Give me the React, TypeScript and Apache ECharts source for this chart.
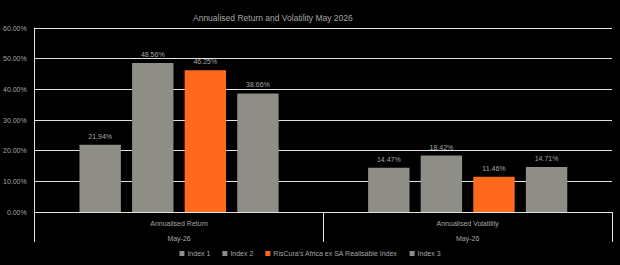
import React, { useEffect, useRef } from "react";
import * as echarts from "echarts";

const categories = ["Annualised Return", "Annualised Volatility"];
const subLabels = ["May-26", "May-26"];
const seriesNames = ["Index 1", "Index 2", "RisCura's Africa ex SA Realisable Index", "Index 3"];
const index1 = [21.94, 14.47];
const index2 = [48.56, 18.42];
const riscura = [46.25, 11.46];
const index3 = [38.66, 14.71];
const yTicks = { min: 0, max: 60, interval: 10 };

const GREY = "#8e8e86";
const ORANGE = "#ff6a1c";
const TEXT = "#a6a6a6";
const LINE = "#e2e2e2";
const FONT = "Liberation Sans, Arial, sans-serif";

export default function App() {
  const ref = useRef<HTMLDivElement>(null);
  useEffect(() => {
    if (!ref.current) return;
    const chart = echarts.init(ref.current, null, { renderer: "svg" });
    const values = [index1, index2, riscura, index3];
    const colors = [GREY, GREY, ORANGE, GREY];
    chart.setOption({
      animation: false,
      backgroundColor: "#000000",
      textStyle: { fontFamily: FONT },
      title: {
        text: "Annualised Return and Volatility May 2026",
        left: 188,
        top: 8,
        textStyle: { color: TEXT, fontSize: 8.5, fontWeight: "normal", fontFamily: FONT },
      },
      legend: {
        bottom: 3,
        left: "center",
        itemWidth: 5,
        itemHeight: 5,
        itemGap: 12,
        icon: "rect",
        textStyle: { color: TEXT, fontSize: 7, fontFamily: FONT, padding: [0, 0, 0, -2] },
        data: seriesNames,
      },
      grid: { left: 34, right: 8, top: 28, bottom: 53, containLabel: false },
      xAxis: {
        type: "category",
        data: categories.map((c, i) => c + "\n" + subLabels[i]),
        axisLine: { lineStyle: { color: LINE, width: 1 } },
        axisTick: { show: true, length: 30, lineStyle: { color: LINE }, alignWithLabel: false },
        axisLabel: { color: TEXT, fontSize: 7, lineHeight: 15, margin: 4, fontFamily: FONT },
      },
      yAxis: {
        type: "value",
        min: yTicks.min,
        max: yTicks.max,
        interval: yTicks.interval,
        axisLine: { show: true, lineStyle: { color: LINE } },
        axisTick: { show: false },
        axisLabel: {
          color: TEXT,
          fontSize: 7,
          margin: 8,
          fontFamily: FONT,
          formatter: (v: number) => v.toFixed(2) + "%",
        },
        splitLine: { lineStyle: { color: LINE, width: 1 } },
      },
      series: seriesNames.map((name, i) => ({
        name,
        type: "bar",
        data: values[i],
        barGap: "27%",
        barCategoryGap: "31%",
        itemStyle: { color: colors[i] },
        label: {
          show: true,
          position: "top",
          distance: 5,
          color: TEXT,
          fontSize: 7,
          fontFamily: FONT,
          formatter: (p: any) => p.value.toFixed(2) + "%",
        },
      })),
    });
    return () => chart.dispose();
  }, []);
  return <div ref={ref} style={{ width: 620, height: 265, position: "absolute", left: 0, top: 0 }} />;
}
